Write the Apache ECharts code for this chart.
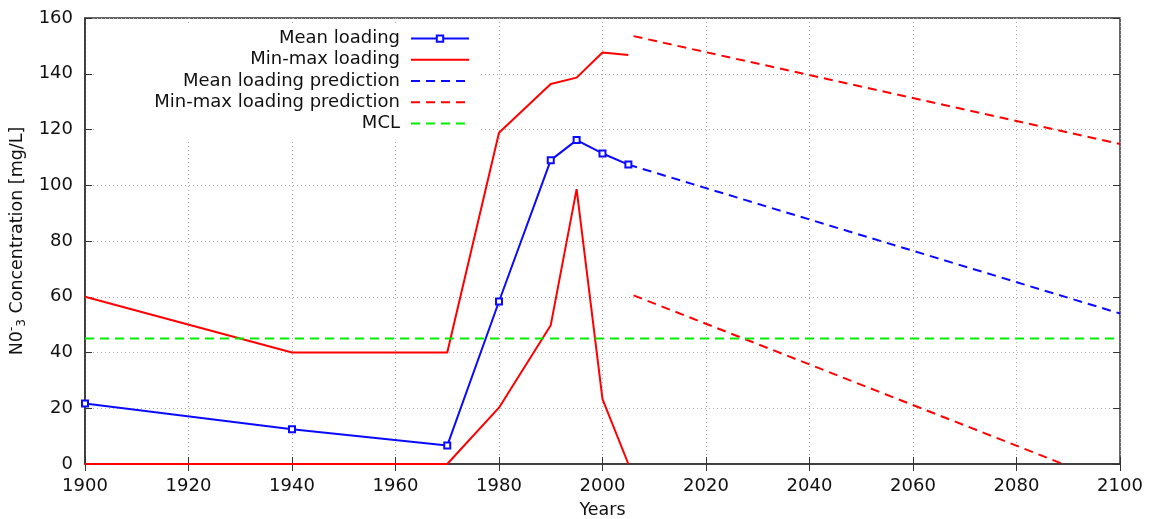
<!DOCTYPE html>
<html>
<head>
<meta charset="utf-8">
<script src="https://cdn.jsdelivr.net/npm/echarts@6/dist/echarts.min.js"></script>
<style>
  html, body { margin: 0; padding: 0; background: #fff; }
  #chart { width: 1151px; height: 519px; }
</style>
</head>
<body>
<div id="chart"></div>
<script>
// measured years and loadings
const years = [1900, 1940, 1970, 1980, 1990, 1995, 2000, 2005];
const meanLoading = [21.7, 12.5, 6.6, 58.3, 109, 116.2, 111.4, 107.4];
const maxLoading = [60, 40, 40, 118.8, 136.3, 138.6, 147.6, 146.7];
const minLoading = [0, 0, 0, 20.2, 49.8, 98.6, 23.3, 0];

// predictions (start / end points)
const meanPredYears = [2005, 2100];
const meanPred = [107.4, 54];
const maxPredYears = [2006, 2100];
const maxPred = [153.5, 114.8];
const minPredYears = [2006, 2089];
const minPred = [60.5, 0];

const mclYears = [1900, 2100];
const mcl = [45, 45];

const xTicks = { min: 1900, max: 2100, interval: 20 };
const yTicks = { min: 0, max: 160, interval: 20 };

const pairs = (xs, ys) => xs.map((x, i) => [x, ys[i]]);

const BLUE = '#0a0aff';
const RED = '#ff0000';
const GREEN = '#00ee00';
const FONT = 'DejaVu Sans';
const dash = [9, 6];

const chart = echarts.init(document.getElementById('chart'));

const tickStyle = { show: true, inside: true, length: 7, lineStyle: { color: '#333', width: 1 } };
const gridLine = { show: true, lineStyle: { color: '#aaa', type: [1, 3], width: 1 } };
// hide the dot echarts adds to legend icons of plain lines
const noDot = { opacity: 0 };

const option = {
  animation: false,
  backgroundColor: '#fff',
  textStyle: { fontFamily: FONT },
  grid: {
    left: 85, right: 31, top: 18, bottom: 55,
    outerBoundsMode: 'none',
    show: true, borderColor: '#333', borderWidth: 1.5, backgroundColor: 'transparent'
  },
  legend: {
    orient: 'vertical',
    align: 'right',
    right: 671,
    top: 24,
    itemGap: 0,
    itemWidth: 58,
    itemHeight: 8,
    padding: [4, 10, 6, 60],
    backgroundColor: '#fff',
    selectedMode: false,
    textStyle: { fontFamily: FONT, fontSize: 18, color: '#111', lineHeight: 21.2, padding: [0, 6, 0, 0] },
    data: [
      'Mean loading',
      { name: 'Min-max loading', itemStyle: noDot },
      { name: 'Mean loading prediction', itemStyle: noDot },
      { name: 'Min-max loading prediction', itemStyle: noDot },
      { name: 'MCL', itemStyle: noDot }
    ]
  },
  xAxis: [
    {
      type: 'value', ...xTicks,
      name: 'Years', nameLocation: 'middle', nameGap: 37,
      nameTextStyle: { fontFamily: FONT, fontSize: 17.5, color: '#111' },
      axisLine: { show: true, lineStyle: { color: '#333', width: 1.5 } },
      axisTick: tickStyle,
      axisLabel: { fontFamily: FONT, fontSize: 18, color: '#111', margin: 13, formatter: v => String(v) },
      splitLine: gridLine
    },
    {
      type: 'value', ...xTicks, position: 'top',
      axisLine: { show: false }, axisTick: tickStyle,
      axisLabel: { show: false }, splitLine: { show: false }
    }
  ],
  yAxis: [
    {
      type: 'value', ...yTicks,
      name: 'N0{sup|-}{sub|3} Concentration [mg/L]', nameLocation: 'middle', nameGap: 53,
      nameTextStyle: {
        fontFamily: FONT, fontSize: 17.5, color: '#111',
        rich: {
          sup: { fontFamily: FONT, fontSize: 12, color: '#111', padding: [0, 0, 10, 0] },
          sub: { fontFamily: FONT, fontSize: 12, color: '#111', padding: [9, 0, 0, 0] }
        }
      },
      axisLine: { show: true, lineStyle: { color: '#333', width: 1.5 } },
      axisTick: tickStyle,
      axisLabel: { fontFamily: FONT, fontSize: 18, color: '#111', margin: 12 },
      splitLine: gridLine
    },
    {
      type: 'value', ...yTicks, position: 'right',
      axisLine: { show: false }, axisTick: tickStyle,
      axisLabel: { show: false }, splitLine: { show: false }
    }
  ],
  series: [
    {
      name: 'Mean loading', type: 'line', data: pairs(years, meanLoading),
      symbol: 'emptyRect', symbolSize: 6, showAllSymbol: true,
      lineStyle: { color: BLUE, width: 2 }, itemStyle: { color: BLUE, borderWidth: 1.5 }, z: 5
    },
    {
      name: 'Min-max loading', type: 'line', data: pairs(years, maxLoading),
      symbol: 'none', lineStyle: { color: RED, width: 2 }, itemStyle: { color: RED }
    },
    {
      name: 'Min-max loading', type: 'line', data: pairs(years, minLoading),
      symbol: 'none', lineStyle: { color: RED, width: 2 }, itemStyle: { color: RED }
    },
    {
      name: 'Mean loading prediction', type: 'line', data: pairs(meanPredYears, meanPred),
      symbol: 'none', lineStyle: { color: BLUE, width: 2, type: dash }, itemStyle: { color: BLUE }
    },
    {
      name: 'Min-max loading prediction', type: 'line', data: pairs(maxPredYears, maxPred),
      symbol: 'none', lineStyle: { color: RED, width: 2, type: dash }, itemStyle: { color: RED }
    },
    {
      name: 'Min-max loading prediction', type: 'line', data: pairs(minPredYears, minPred),
      symbol: 'none', lineStyle: { color: RED, width: 2, type: dash }, itemStyle: { color: RED }
    },
    {
      name: 'MCL', type: 'line', data: pairs(mclYears, mcl),
      symbol: 'none', lineStyle: { color: GREEN, width: 2, type: dash }, itemStyle: { color: GREEN }
    }
  ]
};

chart.setOption(option);
</script>
</body>
</html>
